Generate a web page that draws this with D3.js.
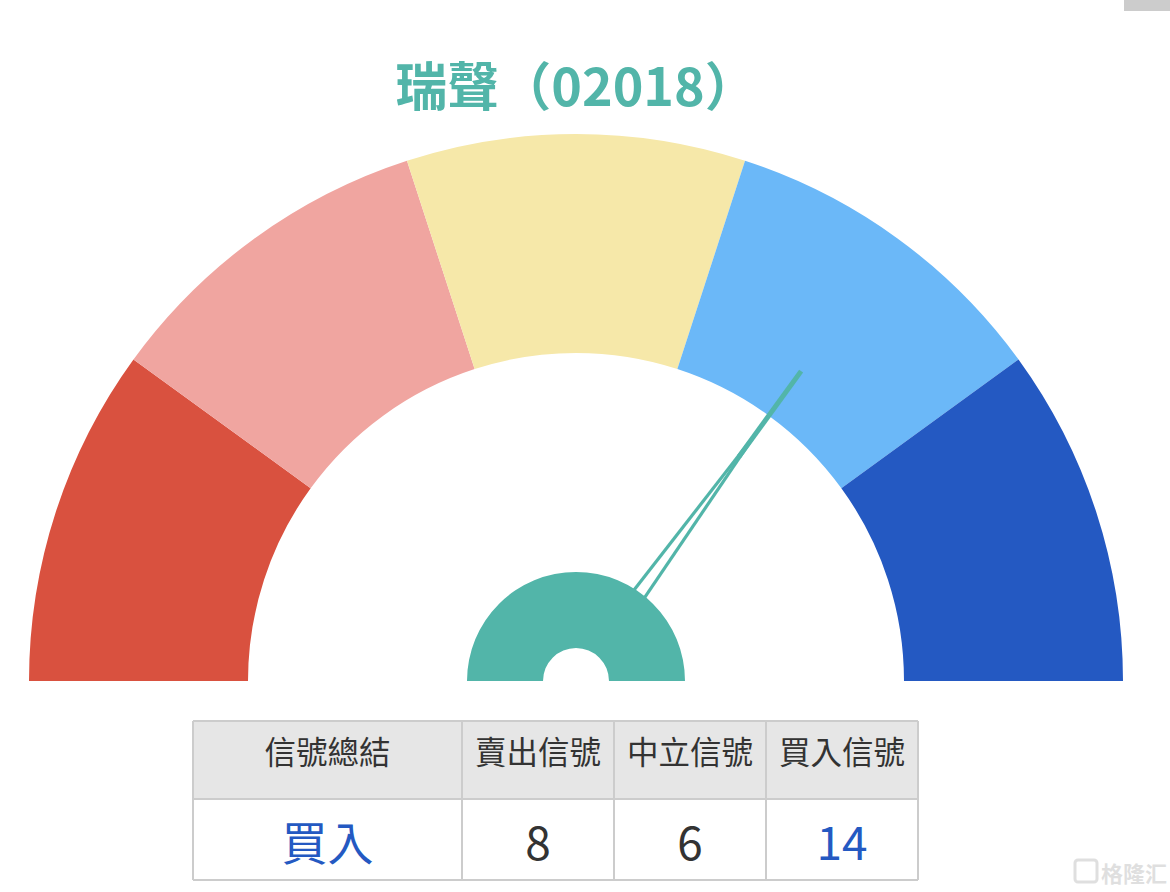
<!DOCTYPE html>
<html><head><meta charset="utf-8">
<script src="https://cdn.jsdelivr.net/npm/d3@7"></script>
<style>html,body{margin:0;padding:0;background:#fff;}svg{display:block;}</style>
</head><body>
<svg id="c" width="1170" height="892"></svg>
<script>
const title = "瑞聲（02018）";
const segments = ["強力賣出", "賣出", "中立", "買入", "強力買入"];
const segmentColors = ["#d9513f", "#f0a5a0", "#f6e8a9", "#6bb8f8", "#2459c2"];
const needleValue = 0.7; // fraction of the gauge
const headers = ["信號總結", "賣出信號", "中立信號", "買入信號"];
const values = ["買入", "8", "6", "14"];
const valueColors = ["#2459c2", "#333333", "#333333", "#2459c2"];

const svg = d3.select("#c");
const teal = "#52b5a9";
const cx = 576, cy = 681, rOuter = 547, rInner = 328;

svg.append("rect").attr("x", 1124).attr("y", 0).attr("width", 46).attr("height", 11).attr("fill", "#cccccc");

svg.append("text").attr("x", cx).attr("y", 83).attr("text-anchor", "middle")
  .attr("dominant-baseline", "central")
  .style("font-family", "'Noto Sans CJK TC','Noto Sans',sans-serif").style("font-weight", 700)
  .style("font-size", "52px").attr("fill", teal).text(title);

const angle = d3.scaleLinear().domain([0, 1]).range([-Math.PI / 2, Math.PI / 2]);
const segScale = d3.scaleBand().domain(segments).range([0, 1]);
const arc = d3.arc().innerRadius(rInner).outerRadius(rOuter);
const g = svg.append("g").attr("transform", `translate(${cx},${cy})`);
g.selectAll("path.seg").data(segments).join("path").attr("class", "seg")
  .attr("d", d => arc({startAngle: angle(segScale(d)), endAngle: angle(segScale(d) + segScale.bandwidth())}))
  .attr("fill", (d, i) => segmentColors[i]);

// needle
const a = angle(needleValue);
const ux = Math.sin(a), uy = -Math.cos(a);
const px = -uy, py = ux;
const baseHalf = 10, rJoin = 307, rTip = 383, rStart = 70;
const jx = ux * rJoin, jy = uy * rJoin;
const ng = g.append("g").attr("stroke", teal).attr("fill", "none").attr("stroke-linecap", "butt");
[-1, 1].forEach(s => {
  const w = baseHalf * (1 - rStart / rJoin) * s;
  ng.append("line").attr("x1", ux * rStart + px * w).attr("y1", uy * rStart + py * w)
    .attr("x2", jx).attr("y2", jy).attr("stroke-width", 3.2);
});
ng.append("line").attr("x1", ux * (rJoin - 30)).attr("y1", uy * (rJoin - 30))
  .attr("x2", ux * rTip).attr("y2", uy * rTip).attr("stroke-width", 5);

// hub
g.append("path").attr("d", d3.arc().innerRadius(33).outerRadius(109)({startAngle: -Math.PI / 2, endAngle: Math.PI / 2}))
  .attr("fill", teal);

// table
const colX = [193, 462, 614, 766, 918];
const rowY = [721, 799, 880];
const tg = svg.append("g");
tg.append("rect").attr("x", colX[0]).attr("y", rowY[0]).attr("width", colX[4] - colX[0]).attr("height", rowY[1] - rowY[0]).attr("fill", "#e6e6e6");
const bc = "#cccccc";
rowY.forEach(y => tg.append("line").attr("x1", colX[0]).attr("x2", colX[4]).attr("y1", y).attr("y2", y).attr("stroke", bc).attr("stroke-width", 2));
colX.forEach(x => tg.append("line").attr("x1", x).attr("x2", x).attr("y1", rowY[0]).attr("y2", rowY[2]).attr("stroke", bc).attr("stroke-width", 2));
const font = "'Noto Sans CJK TC','Noto Sans',sans-serif";
tg.selectAll("text.h").data(headers).join("text").attr("class", "h")
  .attr("x", (d, i) => (colX[i] + colX[i + 1]) / 2).attr("y", 750)
  .attr("text-anchor", "middle").attr("dominant-baseline", "central")
  .style("font-family", font).style("font-size", "31.5px").attr("fill", "#333").text(d => d);
tg.selectAll("text.v").data(values).join("text").attr("class", "v")
  .attr("x", (d, i) => (colX[i] + colX[i + 1]) / 2).attr("y", 840)
  .attr("text-anchor", "middle").attr("dominant-baseline", "central")
  .style("font-family", font).style("font-size", "46px").attr("fill", (d, i) => valueColors[i]).text(d => d);

// watermark
const wm = svg.append("g").attr("opacity", 0.3);
wm.append("rect").attr("x", 1075).attr("y", 860).attr("width", 22).attr("height", 22).attr("rx", 3).attr("fill", "none").attr("stroke", "#999").attr("stroke-width", 3);
wm.append("text").attr("x", 1101).attr("y", 872).attr("dominant-baseline", "central")
  .style("font-family", font).style("font-size", "22px").style("font-weight", 700).attr("fill", "#999").text("格隆汇");
</script>
</body></html>
